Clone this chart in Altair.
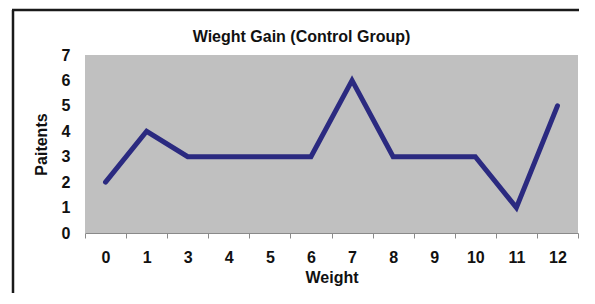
import altair as alt
import pandas as pd

weights = ["0", "1", "3", "4", "5", "6", "7", "8", "9", "10", "11", "12"]
patients = [2, 4, 3, 3, 3, 3, 6, 3, 3, 3, 1, 5]

df = pd.DataFrame({"Weight": weights, "Patients": patients})

FONT = "Liberation Sans"

line = alt.Chart(df).mark_line(
    color="#2b2a80", strokeWidth=5, strokeCap="round", strokeJoin="miter"
).encode(
    x=alt.X(
        "Weight:O",
        sort=weights,
        scale=alt.Scale(paddingInner=0, paddingOuter=0),
        axis=alt.Axis(
            title="Weight",
            labelAngle=0,
            tickBand="extent",
            tickSize=5,
            tickColor="#8a8a8a",
            domainColor="#8a8a8a",
            labelPadding=11,
            titlePadding=4,
            labelFontSize=16,
            titleFontSize=16,
            labelColor="#111111",
            titleColor="#111111",
            labelFontWeight="bold",
            titleFontWeight="bold",
        ),
    ),
    y=alt.Y(
        "Patients:Q",
        scale=alt.Scale(domain=[0, 7], nice=False),
        axis=alt.Axis(
            title="Paitents",
            values=[0, 1, 2, 3, 4, 5, 6, 7],
            grid=False,
            domain=False,
            ticks=False,
            tickSize=0,
            labelPadding=15,
            titlePadding=12,
            labelFontSize=16,
            titleFontSize=16,
            labelColor="#111111",
            titleColor="#111111",
            labelFontWeight="bold",
            titleFontWeight="bold",
        ),
    ),
)

frame_data = alt.Data(values=[{"a": 1}])
left_rule = alt.Chart(frame_data).mark_rule(color="#1a1a1a", strokeWidth=2.5).encode(
    x=alt.value(-72), y=alt.value(-45), y2=alt.value(240)
)
top_rule = alt.Chart(frame_data).mark_rule(color="#1a1a1a", strokeWidth=2.5).encode(
    x=alt.value(-73), x2=alt.value(510), y=alt.value(-45)
)

chart = alt.layer(line, left_rule, top_rule).properties(
    width=493,
    height=178,
    padding={"left": 77, "top": 47, "right": 1, "bottom": 60},
    autosize=alt.AutoSizeParams(type="none"),
    background="white",
    title=alt.TitleParams(
        text="Wieght Gain (Control Group)",
        fontSize=16,
        font=FONT,
        fontWeight="bold",
        color="#111111",
        anchor="middle",
        frame="group",
        baseline="alphabetic",
        offset=-49,
        dx=-30,
    ),
).configure(font=FONT).configure_view(fill="#c0c0c0", stroke=None).configure_axis(
    labelFont=FONT, titleFont=FONT
)

chart.save("out.html", embed_options={"renderer": "svg", "actions": False})
